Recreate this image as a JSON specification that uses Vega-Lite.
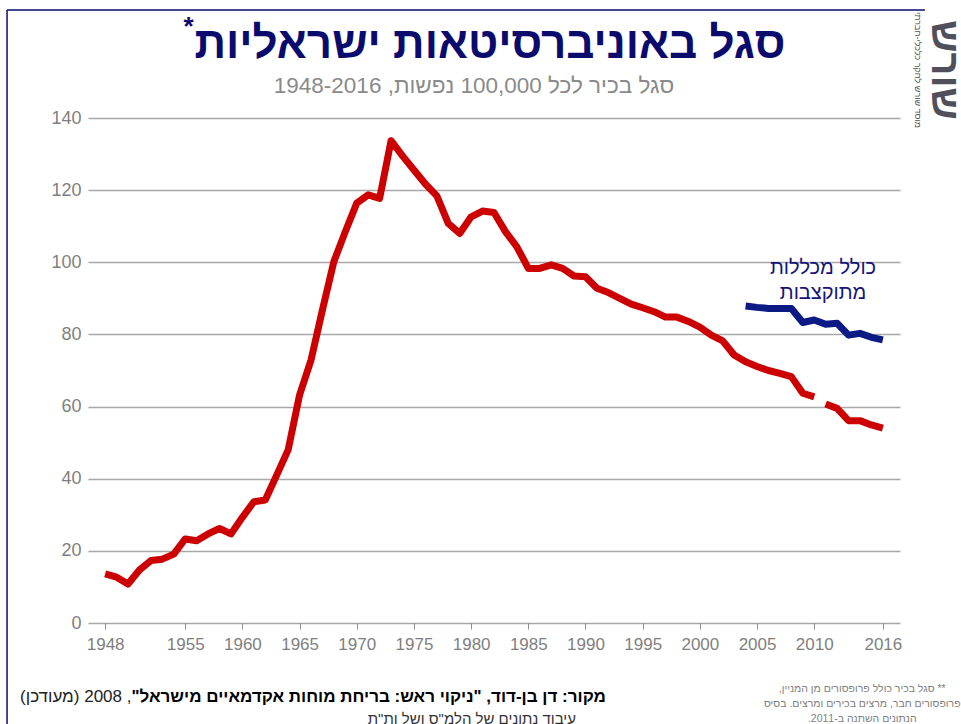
{
  "$schema": "https://vega.github.io/schema/vega-lite/v6.json",
  "width": 812,
  "height": 505,
  "autosize": {"type": "none"},
  "padding": {"left": 88, "top": 118, "right": 61, "bottom": 101},
  "background": "white",
  "config": {"view": {"stroke": null}},
  "data": {
    "values": [
      {"year": 1948, "value": 13.6, "series": "universities_to_2010"},
      {"year": 1949, "value": 12.7, "series": "universities_to_2010"},
      {"year": 1950, "value": 10.8, "series": "universities_to_2010"},
      {"year": 1951, "value": 14.7, "series": "universities_to_2010"},
      {"year": 1952, "value": 17.3, "series": "universities_to_2010"},
      {"year": 1953, "value": 17.7, "series": "universities_to_2010"},
      {"year": 1954, "value": 19.1, "series": "universities_to_2010"},
      {"year": 1955, "value": 23.3, "series": "universities_to_2010"},
      {"year": 1956, "value": 22.8, "series": "universities_to_2010"},
      {"year": 1957, "value": 24.7, "series": "universities_to_2010"},
      {"year": 1958, "value": 26.2, "series": "universities_to_2010"},
      {"year": 1959, "value": 24.7, "series": "universities_to_2010"},
      {"year": 1960, "value": 29.3, "series": "universities_to_2010"},
      {"year": 1961, "value": 33.6, "series": "universities_to_2010"},
      {"year": 1962, "value": 34.1, "series": "universities_to_2010"},
      {"year": 1963, "value": 41.0, "series": "universities_to_2010"},
      {"year": 1964, "value": 48.0, "series": "universities_to_2010"},
      {"year": 1965, "value": 63.2, "series": "universities_to_2010"},
      {"year": 1966, "value": 72.9, "series": "universities_to_2010"},
      {"year": 1967, "value": 86.8, "series": "universities_to_2010"},
      {"year": 1968, "value": 100.2, "series": "universities_to_2010"},
      {"year": 1969, "value": 108.5, "series": "universities_to_2010"},
      {"year": 1970, "value": 116.4, "series": "universities_to_2010"},
      {"year": 1971, "value": 118.7, "series": "universities_to_2010"},
      {"year": 1972, "value": 117.7, "series": "universities_to_2010"},
      {"year": 1973, "value": 133.7, "series": "universities_to_2010"},
      {"year": 1974, "value": 129.5, "series": "universities_to_2010"},
      {"year": 1975, "value": 125.6, "series": "universities_to_2010"},
      {"year": 1976, "value": 121.7, "series": "universities_to_2010"},
      {"year": 1977, "value": 118.4, "series": "universities_to_2010"},
      {"year": 1978, "value": 110.8, "series": "universities_to_2010"},
      {"year": 1979, "value": 108.0, "series": "universities_to_2010"},
      {"year": 1980, "value": 112.6, "series": "universities_to_2010"},
      {"year": 1981, "value": 114.2, "series": "universities_to_2010"},
      {"year": 1982, "value": 113.8, "series": "universities_to_2010"},
      {"year": 1983, "value": 108.5, "series": "universities_to_2010"},
      {"year": 1984, "value": 104.3, "series": "universities_to_2010"},
      {"year": 1985, "value": 98.3, "series": "universities_to_2010"},
      {"year": 1986, "value": 98.3, "series": "universities_to_2010"},
      {"year": 1987, "value": 99.3, "series": "universities_to_2010"},
      {"year": 1988, "value": 98.3, "series": "universities_to_2010"},
      {"year": 1989, "value": 96.2, "series": "universities_to_2010"},
      {"year": 1990, "value": 96.0, "series": "universities_to_2010"},
      {"year": 1991, "value": 92.8, "series": "universities_to_2010"},
      {"year": 1992, "value": 91.6, "series": "universities_to_2010"},
      {"year": 1993, "value": 90.0, "series": "universities_to_2010"},
      {"year": 1994, "value": 88.4, "series": "universities_to_2010"},
      {"year": 1995, "value": 87.4, "series": "universities_to_2010"},
      {"year": 1996, "value": 86.3, "series": "universities_to_2010"},
      {"year": 1997, "value": 84.8, "series": "universities_to_2010"},
      {"year": 1998, "value": 84.8, "series": "universities_to_2010"},
      {"year": 1999, "value": 83.6, "series": "universities_to_2010"},
      {"year": 2000, "value": 82.0, "series": "universities_to_2010"},
      {"year": 2001, "value": 79.8, "series": "universities_to_2010"},
      {"year": 2002, "value": 78.2, "series": "universities_to_2010"},
      {"year": 2003, "value": 74.3, "series": "universities_to_2010"},
      {"year": 2004, "value": 72.4, "series": "universities_to_2010"},
      {"year": 2005, "value": 71.1, "series": "universities_to_2010"},
      {"year": 2006, "value": 70.0, "series": "universities_to_2010"},
      {"year": 2007, "value": 69.2, "series": "universities_to_2010"},
      {"year": 2008, "value": 68.3, "series": "universities_to_2010"},
      {"year": 2009, "value": 63.7, "series": "universities_to_2010"},
      {"year": 2010, "value": 62.7, "series": "universities_to_2010"},
      {"year": 2011, "value": 60.7, "series": "universities_from_2011"},
      {"year": 2012, "value": 59.5, "series": "universities_from_2011"},
      {"year": 2013, "value": 56.1, "series": "universities_from_2011"},
      {"year": 2014, "value": 56.1, "series": "universities_from_2011"},
      {"year": 2015, "value": 54.9, "series": "universities_from_2011"},
      {"year": 2016, "value": 54.0, "series": "universities_from_2011"},
      {"year": 2004, "value": 87.9, "series": "incl_budgeted_colleges"},
      {"year": 2005, "value": 87.5, "series": "incl_budgeted_colleges"},
      {"year": 2006, "value": 87.2, "series": "incl_budgeted_colleges"},
      {"year": 2007, "value": 87.2, "series": "incl_budgeted_colleges"},
      {"year": 2008, "value": 87.2, "series": "incl_budgeted_colleges"},
      {"year": 2009, "value": 83.3, "series": "incl_budgeted_colleges"},
      {"year": 2010, "value": 84.0, "series": "incl_budgeted_colleges"},
      {"year": 2011, "value": 82.8, "series": "incl_budgeted_colleges"},
      {"year": 2012, "value": 83.1, "series": "incl_budgeted_colleges"},
      {"year": 2013, "value": 79.8, "series": "incl_budgeted_colleges"},
      {"year": 2014, "value": 80.3, "series": "incl_budgeted_colleges"},
      {"year": 2015, "value": 79.2, "series": "incl_budgeted_colleges"},
      {"year": 2016, "value": 78.5, "series": "incl_budgeted_colleges"}
    ]
  },
  "layer": [
    {
      "mark": {"type": "line", "strokeWidth": 7, "strokeJoin": "round", "strokeCap": "butt"},
      "encoding": {
        "x": {
          "field": "year",
          "type": "quantitative",
          "scale": {"domain": [1946.5, 2017.5], "nice": false, "zero": false},
          "axis": {
            "values": [1948, 1955, 1960, 1965, 1970, 1975, 1980, 1985, 1990, 1995, 2000, 2005, 2010, 2016],
            "format": "d",
            "grid": false,
            "domain": false,
            "ticks": true,
            "tickColor": "#8c8c8c",
            "tickSize": 6,
            "tickWidth": 1,
            "labelFont": "Liberation Sans, Arial",
            "labelFontSize": 17,
            "labelColor": "#7f7f7f",
            "labelPadding": 7,
            "labelOverlap": false,
            "labelFlush": false,
            "title": null
          }
        },
        "y": {
          "field": "value",
          "type": "quantitative",
          "scale": {"domain": [0, 140], "nice": false},
          "axis": {
            "values": [0, 20, 40, 60, 80, 100, 120, 140],
            "grid": true,
            "gridColor": "#a8a8a8",
            "gridWidth": 1.5,
            "domain": false,
            "ticks": false,
            "labelFont": "Liberation Sans, Arial",
            "labelFontSize": 18,
            "labelColor": "#7f7f7f",
            "labelPadding": 7,
            "title": null
          }
        },
        "color": {
          "field": "series",
          "type": "nominal",
          "scale": {
            "domain": ["universities_to_2010", "universities_from_2011", "incl_budgeted_colleges"],
            "range": ["#cc0000", "#cc0000", "#0b1a85"]
          },
          "legend": null
        },
        "order": {"field": "year", "type": "quantitative"}
      }
    },
    {
      "data": {"values": [{}]},
      "mark": {
        "type": "text",
        "text": "‫סגל באוניברסיטאות ישראליות‬",
        "font": "Liberation Sans, Arial, DejaVu Sans",
        "fontSize": 44,
        "fontWeight": "bold",
        "color": "#0b0b6e",
        "align": "center",
        "baseline": "alphabetic"
      },
      "encoding": {"x": {"datum": 1981.65}, "y": {"datum": 156.64}}
    },
    {
      "data": {"values": [{}]},
      "mark": {
        "type": "text",
        "text": "*",
        "font": "Liberation Sans, Arial, DejaVu Sans",
        "fontSize": 26,
        "fontWeight": "bold",
        "color": "#0b0b6e",
        "align": "center",
        "baseline": "middle"
      },
      "encoding": {"x": {"datum": 1955.3}, "y": {"datum": 165.3}}
    },
    {
      "data": {"values": [{}]},
      "mark": {
        "type": "text",
        "text": "‫סגל בכיר לכל 100,000 נפשות, 1948-2016‬",
        "font": "Liberation Sans, Arial, DejaVu Sans",
        "fontSize": 22.5,
        "color": "#8a8a8a",
        "align": "center",
        "baseline": "alphabetic"
      },
      "encoding": {"x": {"datum": 1980.25}, "y": {"datum": 146.9}}
    },
    {
      "data": {"values": [{}]},
      "mark": {
        "type": "text",
        "text": ["‫כולל מכללות‬", "‫מתוקצבות‬"],
        "font": "Liberation Sans, Arial, DejaVu Sans",
        "fontSize": 20,
        "lineHeight": 25,
        "color": "#141478",
        "align": "center",
        "baseline": "middle"
      },
      "encoding": {"x": {"datum": 2010.77}, "y": {"datum": 98.4}}
    },
    {
      "data": {"values": [{}]},
      "mark": {
        "type": "text",
        "text": "‫מקור:  דן בן-דוד, \"ניקוי ראש: בריחת מוחות אקדמאיים מישראל\"‬",
        "font": "Liberation Sans, Arial, DejaVu Sans",
        "fontSize": 17,
        "fontWeight": "bold",
        "color": "#000000",
        "align": "right",
        "baseline": "middle"
      },
      "encoding": {"x": {"datum": 1991.79}, "y": {"datum": -20.51}}
    },
    {
      "data": {"values": [{}]},
      "mark": {
        "type": "text",
        "text": "‫, 2008 (מעודכן)‬",
        "font": "Liberation Sans, Arial, DejaVu Sans",
        "fontSize": 17,
        "color": "#222222",
        "align": "right",
        "baseline": "middle"
      },
      "encoding": {"x": {"datum": 1950.3}, "y": {"datum": -20.51}}
    },
    {
      "data": {"values": [{}]},
      "mark": {
        "type": "text",
        "text": "‫עיבוד נתונים של הלמ\"ס ושל ות\"ת‬",
        "font": "Liberation Sans, Arial, DejaVu Sans",
        "fontSize": 15,
        "color": "#333333",
        "align": "right",
        "baseline": "middle"
      },
      "encoding": {"x": {"datum": 1989.17}, "y": {"datum": -26.6}}
    },
    {
      "data": {"values": [{}]},
      "mark": {
        "type": "text",
        "text": ["‫** סגל בכיר כולל פרופסורים מן המניין,‬", "‫פרופסורים חבר, מרצים בכירים ומרצים. בסיס‬", "‫הנתונים השתנה ב-2011.‬"],
        "font": "Liberation Sans, Arial, DejaVu Sans",
        "fontSize": 10.5,
        "lineHeight": 15,
        "color": "#808080",
        "align": "center",
        "baseline": "middle"
      },
      "encoding": {"x": {"datum": 2014.2}, "y": {"datum": -18.3}}
    },
    {
      "data": {"values": [{}]},
      "mark": {
        "type": "text",
        "text": "שורש",
        "angle": 90,
        "font": "Liberation Sans, Arial, DejaVu Sans",
        "fontSize": 40,
        "fontWeight": "bold",
        "color": "#50505c",
        "align": "center",
        "baseline": "middle"
      },
      "encoding": {"x": {"datum": 2021.35}, "y": {"datum": 153.3}}
    },
    {
      "data": {"values": [{}]},
      "mark": {
        "type": "text",
        "text": "מוסד שורש לחקר כלכלי-חברתי",
        "angle": 90,
        "font": "Liberation Sans, Arial, DejaVu Sans",
        "fontSize": 9,
        "color": "#555555",
        "align": "center",
        "baseline": "middle"
      },
      "encoding": {"x": {"datum": 2019.07}, "y": {"datum": 153.3}}
    },
    {
      "data": {"values": [{}]},
      "mark": {"type": "rule", "color": "#0b0b6e", "strokeWidth": 1.5},
      "encoding": {"x": {"datum": 1939.42}, "x2": {"datum": 2019.68}, "y": {"datum": 169.95}}
    },
    {
      "data": {"values": [{}]},
      "mark": {"type": "rule", "color": "#0b0b6e", "strokeWidth": 1.5},
      "encoding": {"x": {"datum": 1939.42}, "y": {"datum": 169.95}, "y2": {"datum": -30}}
    }
  ]
}
